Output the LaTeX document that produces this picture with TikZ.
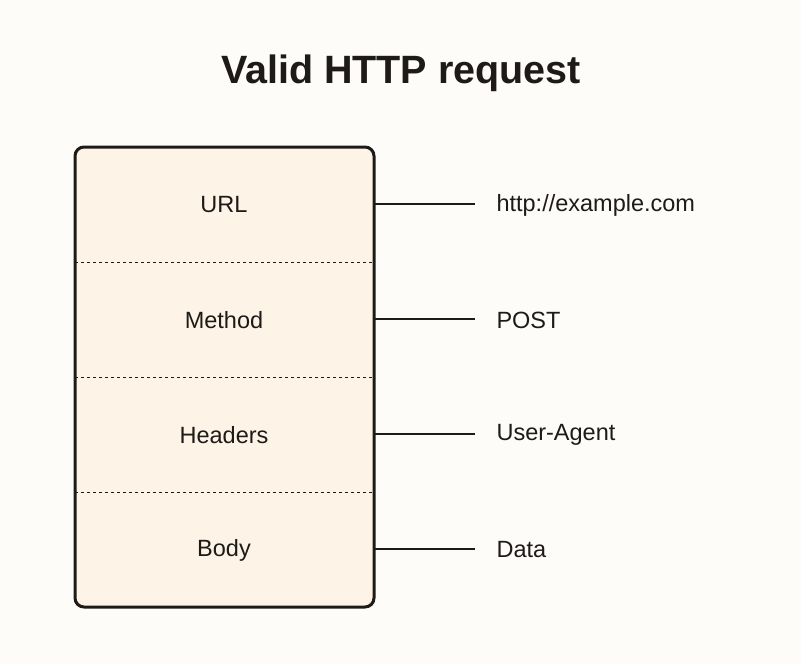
\documentclass[tikz,border=0pt]{standalone}
\usepackage{fontspec}
\setmainfont{Liberation Sans}
\definecolor{bg}{HTML}{FDFCF8}
\definecolor{boxfill}{HTML}{FDF3E7}
\definecolor{ink}{HTML}{1E1A18}
\begin{document}
\begin{tikzpicture}[x=1pt,y=-1pt,
  lab/.style={font=\fontsize{23.5}{26}\selectfont, text=ink},
  val/.style={font=\fontsize{23.5}{26}\selectfont, text=ink, anchor=west},
  conn/.style={draw=ink, line width=1.3pt},
  sep/.style={draw=ink, dashed, line width=0.9pt}]
\fill[bg] (0,0) rectangle (801,664);
\useasboundingbox (0,0) rectangle (801,664);
\node[font=\fontsize{39.5}{44}\selectfont\bfseries, text=ink] (title) at (401,73) {Valid HTTP request};
\draw[fill=boxfill, draw=ink, line width=3pt, rounded corners=9pt] (75,147) rectangle (374,607);
\coordinate (l1) at (75,262); \coordinate (r1) at (374,262);
\coordinate (l2) at (75,377); \coordinate (r2) at (374,377);
\coordinate (l3) at (75,492); \coordinate (r3) at (374,492);
\draw[sep] (l1) -- (r1); \draw[sep] (l2) -- (r2); \draw[sep] (l3) -- (r3);
\node[lab] (url) at (224,205) {URL};
\node[lab] (method) at (224,320) {Method};
\node[lab] (headers) at (224,435) {Headers};
\node[lab] (body) at (224,550) {Body};
\coordinate (a1) at (374,204); \coordinate (b1) at (475,204);
\coordinate (a2) at (374,319); \coordinate (b2) at (475,319);
\coordinate (a3) at (374,434); \coordinate (b3) at (475,434);
\coordinate (a4) at (374,549); \coordinate (b4) at (475,549);
\draw[conn] (a1) -- (b1); \draw[conn] (a2) -- (b2);
\draw[conn] (a3) -- (b3); \draw[conn] (a4) -- (b4);
\node[val] (v1) at (493,205) {http://example.com};
\node[val] (v2) at (493,320) {POST};
\node[val] (v3) at (493,435) {User-Agent};
\node[val] (v4) at (493,550) {Data};
\end{tikzpicture}
\end{document}
